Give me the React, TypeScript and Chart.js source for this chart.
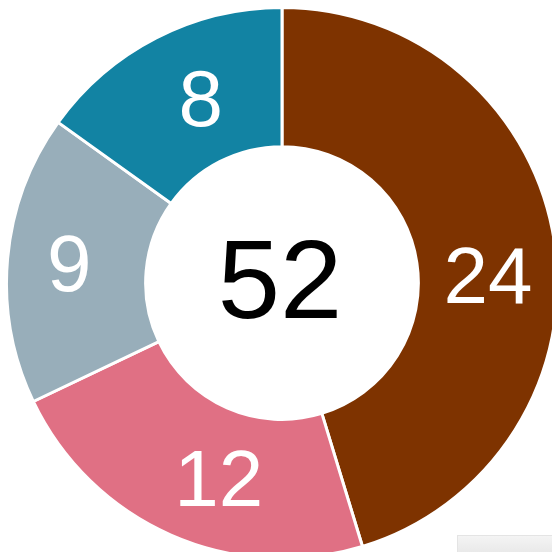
import React, { useEffect, useRef } from "react";
import { Chart, registerables } from "chart.js";

Chart.register(...registerables);

const categories = ["A", "B", "C", "D"];
const values = [24, 12, 9, 8];
const colors = ["#7e3300", "#e07084", "#98aeba", "#1283a3"];
const centerLabel = "52";

// small layout nudges for the in-slice labels (degrees / px)
const labelAngleShift = [7.1, -6, -0.6, 3.1];
const labelRadiusShift = [0, 1.5, 7.5, -6.5];

const labelPlugin = {
  id: "sliceLabels",
  afterDatasetsDraw(chart: any) {
    const ctx = chart.ctx;
    const meta = chart.getDatasetMeta(0);
    ctx.save();
    ctx.textAlign = "center";
    ctx.textBaseline = "middle";
    ctx.fillStyle = "#ffffff";
    ctx.font = '80px "Liberation Sans", Arial, sans-serif';
    meta.data.forEach((arc: any, i: number) => {
      const p = arc.getProps(["x", "y", "startAngle", "endAngle", "innerRadius", "outerRadius"], true);
      const a = (p.startAngle + p.endAngle) / 2 + (labelAngleShift[i] * Math.PI) / 180;
      const r = (p.innerRadius + p.outerRadius) / 2 + labelRadiusShift[i];
      ctx.fillText(String(values[i]), p.x + Math.cos(a) * r, p.y + Math.sin(a) * r + 3);
    });
    if (meta.data.length) {
      const p = meta.data[0].getProps(["x", "y"], true);
      ctx.fillStyle = "#000000";
      ctx.font = '112px "Liberation Sans", Arial, sans-serif';
      ctx.fillText(centerLabel, p.x - 2, p.y + 4);
    }
    ctx.restore();
  },
};

export default function App() {
  const ref = useRef<HTMLCanvasElement | null>(null);
  useEffect(() => {
    if (!ref.current) return;
    const chart = new Chart(ref.current, {
      type: "doughnut",
      data: {
        labels: categories,
        datasets: [
          {
            data: values,
            backgroundColor: colors,
            borderColor: "#ffffff",
            borderWidth: 3,
          },
        ],
      },
      options: {
        responsive: false,
        animation: false,
        cutout: "49.5%",
        layout: { padding: 0 },
        plugins: { legend: { display: false }, tooltip: { enabled: false } },
      },
      plugins: [labelPlugin],
    });
    return () => chart.destroy();
  }, []);
  return (
    <div style={{ position: "fixed", left: 0, top: 0, width: 552, height: 552, overflow: "hidden", background: "#fff" }}>
      <canvas ref={ref} width={554} height={554} style={{ position: "absolute", left: 5, top: 6 }} />
      <div
        style={{
          position: "absolute",
          left: 457,
          top: 535,
          width: 100,
          height: 20,
          boxSizing: "border-box",
          border: "1px solid #e4e4e4",
          background: "linear-gradient(#f4f4f4, #e8e8e8)",
        }}
      />
    </div>
  );
}
